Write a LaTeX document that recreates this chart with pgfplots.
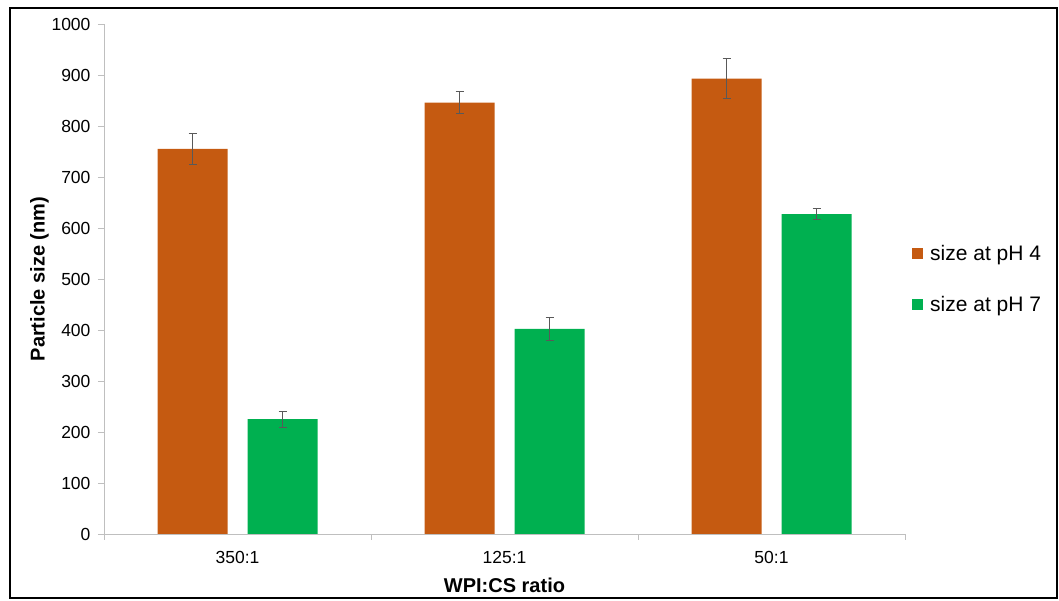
\documentclass[border=0pt]{standalone}
\usepackage{fontspec}
\setmainfont{Liberation Sans}
\usepackage{pgfplots}
\pgfplotsset{compat=1.18}
\definecolor{cOr}{HTML}{C55A11}
\definecolor{cGr}{HTML}{00B050}
\begin{document}
\begin{tikzpicture}
\path[use as bounding box] (-104pt,-67pt) rectangle (955pt,534pt);
\begin{axis}[
  scale only axis, width=801pt, height=510pt,
  ymin=0, ymax=1000, xmin=0.5, xmax=3.5,
  enlargelimits=false,
  ytick={0,100,...,1000},
  xtick={0.5,1.5,2.5,3.5},
  x tick label as interval,
  xticklabels={350:1,125:1,50:1},
  axis x line*=bottom, axis y line*=left,
  axis line style={draw=black!25, line width=0.8pt, -},
  tick style={draw=black!25, line width=0.8pt},
  tick align=outside,
  major tick length=6pt,
  /pgf/number format/assume math mode=true,
  /pgf/number format/1000 sep={},
  tick label style={font=\fontsize{17.5}{20}\selectfont},
  yticklabel style={xshift=-4pt},
  xticklabel style={yshift=-8pt},
  ylabel={\textbf{Particle size (nm)}},
  xlabel={\textbf{WPI:CS ratio}},
  label style={font=\fontsize{20}{24}\selectfont},
  ylabel style={yshift=-4pt},
  xlabel style={yshift=-7pt},
  ybar=20pt, bar width=70pt,
  legend style={at={(1,0.5)}, anchor=west, xshift=4pt, draw=none, fill=none,
    font=\fontsize{21}{25}\selectfont, row sep=30pt,
    /tikz/every odd column/.append style={column sep=5pt}},
  legend cell align=left,
  legend image code/.code={\fill[#1] (0pt,-5.5pt) rectangle (11pt,5.5pt);},
]
\addplot[fill=cOr, draw=none,
  error bars/.cd, y dir=both, y explicit,
  error bar style={black!65, line width=0.7pt},
  error mark options={rotate=90, mark size=4pt, black!65, line width=0.7pt}]
  coordinates {(1,755) +- (0,30) (2,846) +- (0,22) (3,893) +- (0,39)};
\addplot[fill=cGr, draw=none,
  error bars/.cd, y dir=both, y explicit,
  error bar style={black!65, line width=0.7pt},
  error mark options={rotate=90, mark size=4pt, black!65, line width=0.7pt}]
  coordinates {(1,225) +- (0,15) (2,402) +- (0,22) (3,627) +- (0,11)};
\legend{size at pH 4, size at pH 7}
\end{axis}
\draw[line width=1.8pt] (-94pt,-64pt) rectangle (953pt,526pt);
\end{tikzpicture}
\end{document}
